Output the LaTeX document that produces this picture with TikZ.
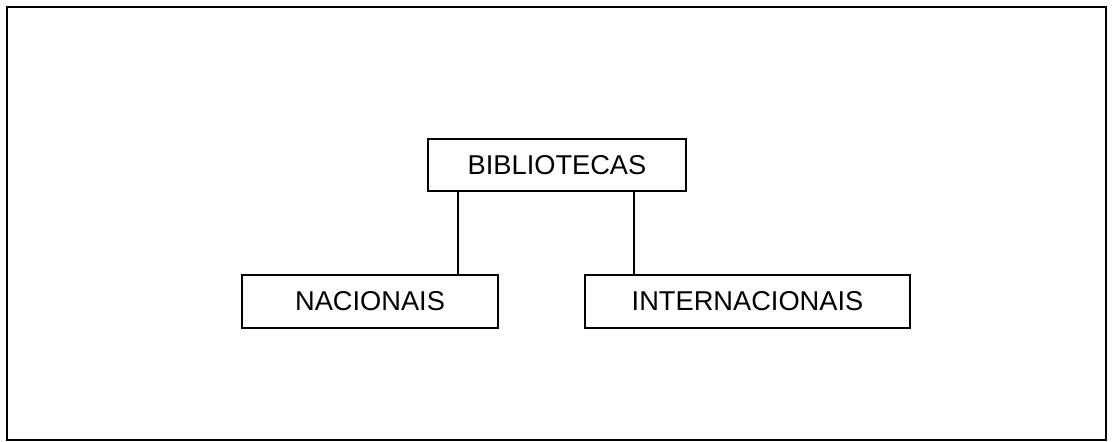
\documentclass[tikz,border=0pt]{standalone}
\usepackage{fontspec}
\setmainfont{Liberation Sans}
\usetikzlibrary{positioning, calc}
\tikzset{
	box/.style={draw, line width=1.1pt, minimum height=1.05cm, inner sep=0pt, font=\fontsize{15.5}{18}\selectfont},
	link/.style={line width=1.1pt},
}

\begin{document}
\begin{tikzpicture}
			\useasboundingbox (0,0) rectangle (22.26,-8.84);
			\draw[line width=1.4pt] (0.14,-0.14) rectangle (22.12,-8.80);
			
			\node[box, minimum width=5.16cm] (bib) at (11.14,-3.30) {BIBLIOTECAS};
			\node[box, minimum width=5.12cm] (nac) at (7.40,-6.03) {NACIONAIS};
			\node[box, minimum width=6.50cm] (int) at (14.95,-6.03) {INTERNACIONAIS};
			
			\coordinate (lnac) at (9.16,0);
			\coordinate (lint) at (12.68,0);

			\draw[link] (lnac |- bib.south) -- (lnac |- nac.north);
			\draw[link] (lint |- bib.south) -- (lint |- int.north);
		\end{tikzpicture}
\end{document}
